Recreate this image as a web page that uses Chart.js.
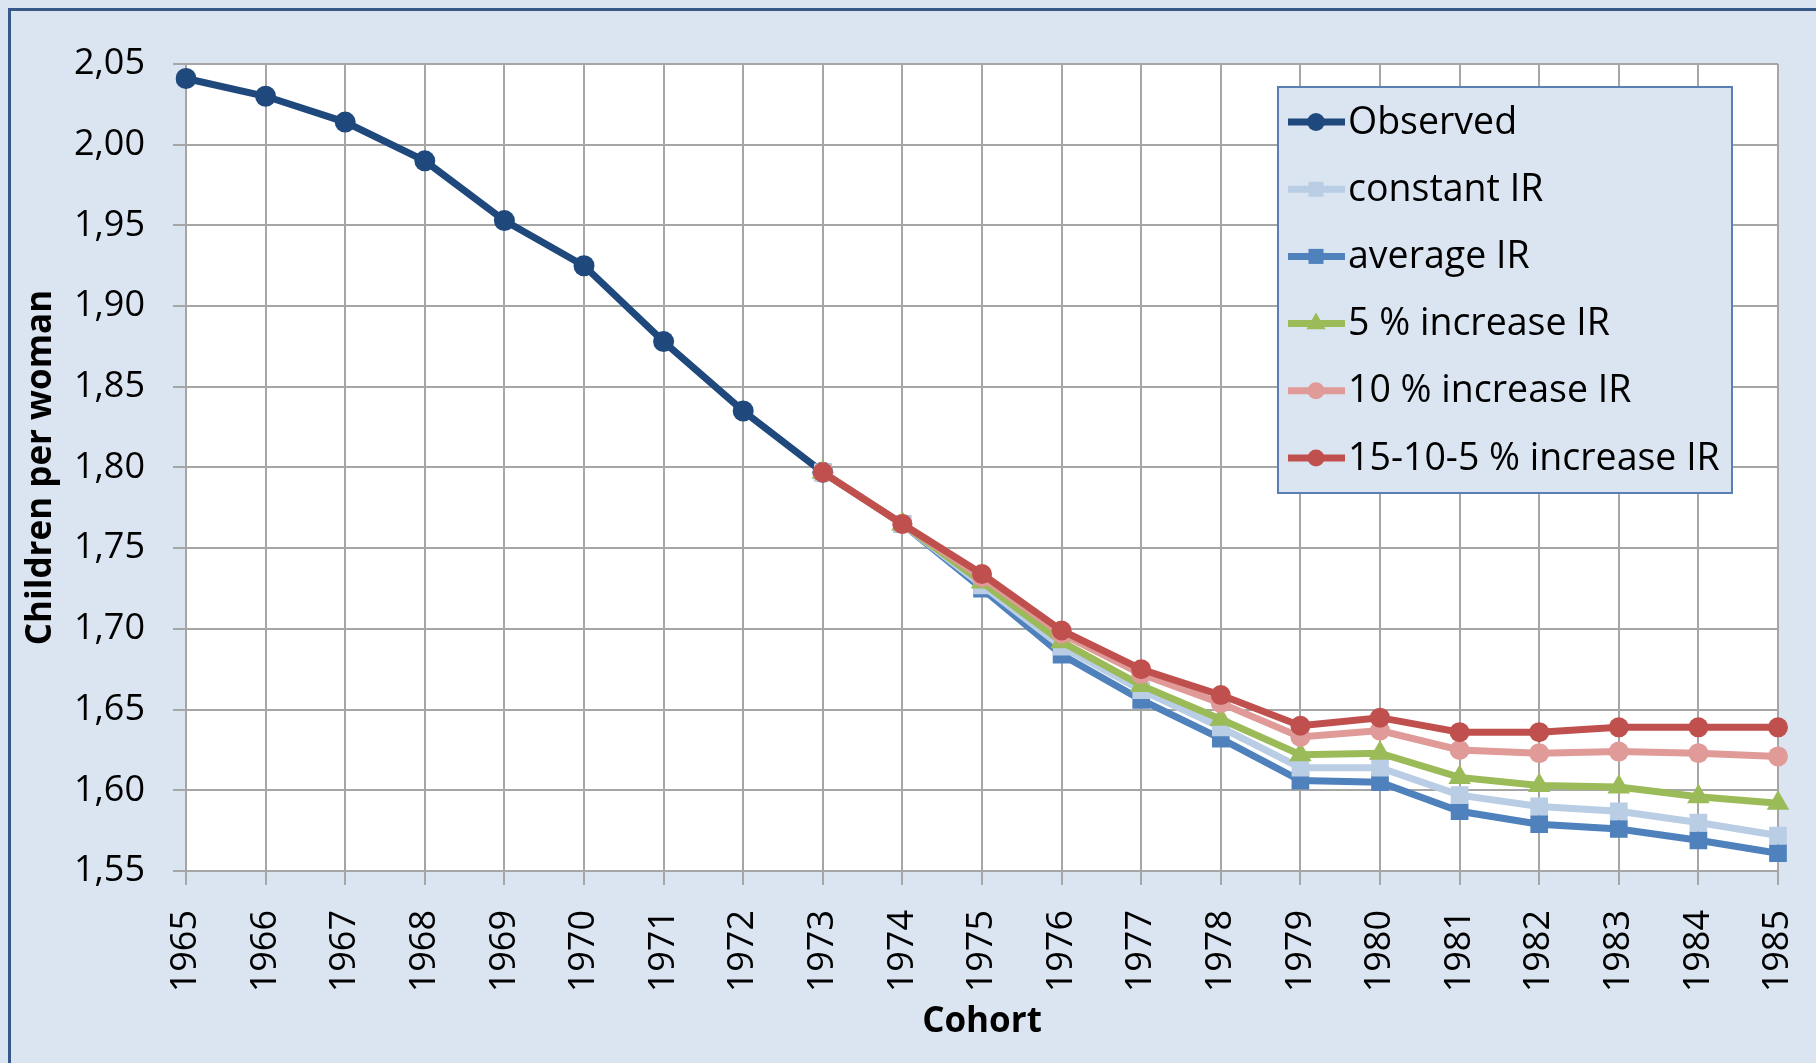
<!DOCTYPE html>
<html>
<head>
<meta charset="utf-8">
<script src="https://cdn.jsdelivr.net/npm/chart.js@4.4.0/dist/chart.umd.min.js"></script>
<style>
    html, body { margin: 0; padding: 0; background: #dbe5f1; }
    #wrap { width: 1816px; height: 1063px; }
</style>
</head>
<body>
<div id="wrap"><canvas id="myChart1" width="1816" height="1063"></canvas></div>
<script>
// cohorts on the x axis
const cohorts = ["1965", "1966", "1967", "1968", "1969", "1970", "1971", "1972", "1973", "1974", "1975",
    "1976", "1977", "1978", "1979", "1980", "1981", "1982", "1983", "1984", "1985"];
const yTicks = [1.55, 1.60, 1.65, 1.70, 1.75, 1.80, 1.85, 1.90, 1.95, 2.00, 2.05];

// children per woman
const observed = [2.041, 2.030, 2.014, 1.990, 1.953, 1.925, 1.878, 1.835, 1.797,
    null, null, null, null, null, null, null, null, null, null, null, null];
const constantIR = [null, null, null, null, null, null, null, null, 1.797, 1.765, 1.727,
    1.689, 1.662, 1.639, 1.614, 1.614, 1.597, 1.590, 1.587, 1.580, 1.572];
const averageIR = [null, null, null, null, null, null, null, null, 1.797, 1.765, 1.725,
    1.684, 1.656, 1.632, 1.606, 1.605, 1.587, 1.579, 1.576, 1.569, 1.561];
const increase5 = [null, null, null, null, null, null, null, null, 1.797, 1.765, 1.729,
    1.692, 1.665, 1.644, 1.622, 1.623, 1.608, 1.603, 1.602, 1.596, 1.592];
const increase10 = [null, null, null, null, null, null, null, null, 1.797, 1.765, 1.732,
    1.697, 1.672, 1.654, 1.633, 1.637, 1.625, 1.623, 1.624, 1.623, 1.621];
const increase15105 = [null, null, null, null, null, null, null, null, 1.797, 1.765, 1.734,
    1.699, 1.675, 1.659, 1.640, 1.645, 1.636, 1.636, 1.639, 1.639, 1.639];

const FONT = "'Open Sans', sans-serif";

// background, plot area and the frame round the chart
const chartBackground = {
    id: "chartBackground",
    beforeDraw(chart) {
        const {ctx, chartArea} = chart;
        ctx.save();
        ctx.fillStyle = "#dbe5f1";
        ctx.fillRect(0, 0, chart.width, chart.height);
        ctx.fillStyle = "#ffffff";
        ctx.fillRect(chartArea.left, chartArea.top, chartArea.right - chartArea.left, chartArea.bottom - chartArea.top);
        ctx.strokeStyle = "#36598a";
        ctx.lineWidth = 3;
        ctx.beginPath();
        ctx.moveTo(9.5, chart.height);
        ctx.lineTo(9.5, 9.5);
        ctx.lineTo(chart.width, 9.5);
        ctx.stroke();
        ctx.restore();
    }
};

// Excel style legend: line with marker, inside a box
const legendBox = {
    id: "legendBox",
    afterDatasetsDraw(chart) {
        const {ctx, chartArea} = chart;
        const x = chartArea.right - 500, y = chartArea.top + 23, w = 454, h = 406;
        ctx.save();
        ctx.fillStyle = "#dbe5f1";
        ctx.fillRect(x, y, w, h);
        ctx.strokeStyle = "#5a7fb5";
        ctx.lineWidth = 2;
        ctx.strokeRect(x, y, w, h);
        chart.data.datasets.forEach((ds, i) => {
            const cy = y + 35 + i * 67.2;
            ctx.strokeStyle = ds.borderColor;
            ctx.lineWidth = ds.borderWidth;
            ctx.beginPath();
            ctx.moveTo(x + 10, cy);
            ctx.lineTo(x + 67, cy);
            ctx.stroke();
            ctx.fillStyle = ds.pointBackgroundColor;
            ctx.strokeStyle = ds.pointBackgroundColor;
            Chart.helpers.drawPoint(ctx, {pointStyle: ds.pointStyle, radius: ds.pointRadius * 0.85, rotation: 0, borderWidth: 0}, x + 38, cy);
            ctx.fillStyle = "#000000";
            ctx.font = "37.5px " + FONT;
            ctx.textBaseline = "middle";
            ctx.textAlign = "left";
            ctx.fillText(ds.label, x + 70, cy + 1);
        });
        ctx.restore();
    }
};

function series(label, data, color, style, radius, order) {
    return {
        label: label,
        data: data,
        borderColor: color,
        backgroundColor: color,
        pointBackgroundColor: color,
        pointBorderColor: color,
        pointBorderWidth: 0,
        pointStyle: style,
        pointRadius: radius,
        pointHoverRadius: radius,
        borderWidth: 7,
        fill: false,
        tension: 0,
        order: order
    };
}

const ctx = document.getElementById("myChart1").getContext("2d");
const myChart1 = new Chart(ctx, {
    type: "line",
    data: {
        labels: cohorts,
        datasets: [
            series("Observed", observed, "#1f497d", "circle", 10.5, 5),
            series("constant IR", constantIR, "#b9cde5", "rect", 12.5, 3),
            series("average IR", averageIR, "#4f81bd", "rect", 12.5, 4),
            series("5 % increase IR", increase5, "#9bbb59", "triangle", 13, 2),
            series("10 % increase IR", increase10, "#e09a98", "circle", 10, 1),
            series("15-10-5 % increase IR", increase15105, "#c0504d", "circle", 10, 0)
        ]
    },
    options: {
        responsive: false,
        animation: false,
        layout: { padding: { left: 0, right: 38, top: 64, bottom: 0 } },
        plugins: {
            legend: { display: false },
            tooltip: { enabled: false },
            title: { display: false }
        },
        scales: {
            x: {
                type: "category",
                offset: false,
                grid: { color: "#a6a6a6", lineWidth: 2, tickLength: 14, drawTicks: true },
                border: { color: "#a6a6a6", width: 2 },
                ticks: {
                    color: "#000000",
                    font: { family: FONT, size: 36 },
                    minRotation: 90,
                    maxRotation: 90,
                    autoSkip: false,
                    padding: 25
                },
                title: {
                    display: true,
                    text: "Cohort",
                    color: "#000000",
                    font: { family: FONT, size: 35, weight: "bold" },
                    padding: { top: 0, bottom: 20 }
                },
                afterFit(scale) {
                    scale.height = 192;
                    scale.paddingLeft = 0;
                    scale.paddingRight = 0;
                }
            },
            y: {
                min: 1.55,
                max: 2.05,
                grid: { color: "#a6a6a6", lineWidth: 2, tickLength: 13 },
                border: { color: "#a6a6a6", width: 2 },
                afterBuildTicks(scale) { scale.ticks = yTicks.map(v => ({ value: v })); },
                ticks: {
                    color: "#000000",
                    font: { family: FONT, size: 36 },
                    padding: 28,
                    callback: v => Number(v).toFixed(2).replace(".", ",")
                },
                title: {
                    display: true,
                    text: "Children per woman",
                    color: "#000000",
                    font: { family: FONT, size: 35, weight: "bold" },
                    padding: { top: 20, bottom: 0 }
                },
                afterFit(scale) { scale.width = 186; }
            }
        }
    },
    plugins: [chartBackground, legendBox]
});
console.log("chart created");
</script>
</body>
</html>
